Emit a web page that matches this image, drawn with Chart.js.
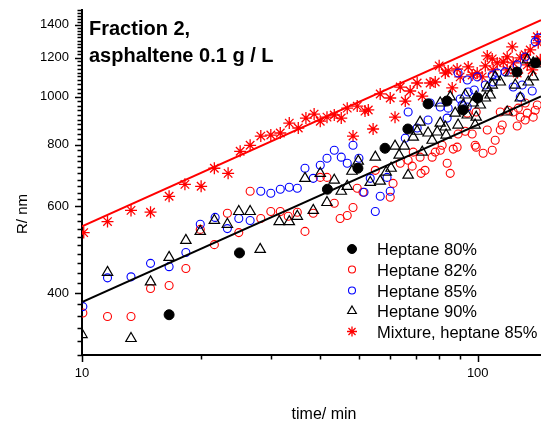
<!DOCTYPE html>
<html><head><meta charset="utf-8">
<script src="https://cdn.jsdelivr.net/npm/chart.js@4/dist/chart.umd.min.js"></script>
<style>html,body{margin:0;padding:0;background:#fff;overflow:hidden}</style>
</head><body>
<canvas id="c" width="541" height="421"></canvas>
<script>
// ---------- data (time in min, R in nm) ----------
const hept80Time = [16.6, 25.0, 41.7, 49.8, 58.3, 66.6, 74.9, 83.6, 91.8, 100, 125.7, 140];
const hept80R    = [362, 483, 650, 717, 787, 861, 968, 981, 941, 995, 1123, 1172];

const hept82Time = [10.05,11.6,13.3,14.9,16.6,18.3,19.9,21.6,23.3,24.9,26.6,28.3,30.0,31.7,33.2,35.0,36.6,38.4,40.0,41.6,43.4,44.9,46.8,48.4,49.6,51.3,55.1,60.1,61.1,63.7,66.7,68.3,68.7,71.5,71.9,73.6,76.7,78.1,80.4,81.3,83.7,85.2,86.7,88.7,89.2,93.0,96.8,98.5,99.1,103.2,105.7,108.8,110.7,114.0,115.3,114.0,119.4,122.9,125.8,126.6,128.1,131.8,131.8,133.4,138.1,139.7,141.4,94.1,99.1];
const hept82R    = [365,359,359,409,415,449,539,502,581,531,644,567,586,586,573,584,534,581,687,687,609,567,575,597,653,641,710,626,668,734,744,724,773,755,700,710,755,773,780,798,734,700,784,791,841,852,841,798,791,769,857,780,817,857,877,932,940,932,873,949,910,972,898,927,910,940,963,927,932];

const hept85Time = [10.05,11.6,13.3,14.9,16.6,18.3,19.9,21.7,23.3,24.9,26.6,28.3,30.0,31.7,33.4,35.0,36.6,38.4,40.0,41.6,43.4,45.2,46.8,48.4,50.1,51.6,53.5,55.1,56.7,60.1,59.0,65.6,66.7,70.3,74.9,75.8,80.4,83.7,84.2,90.3,91.3,94.1,94.6,98.0,89.2,94.1,99.7,104.5,108.8,112.0,117.3,122.9,125.8,129.5,131.8,137.3,128.1,139.7,142.2,109.4];
const hept85R    = [376,430,432,460,453,484,552,570,541,567,562,644,638,650,656,653,717,684,727,751,780,755,734,798,751,641,684,586,629,644,687,825,932,865,898,972,954,906,949,990,963,954,1023,1033,1118,1082,1098,1057,1108,1118,1124,1047,1161,1057,1205,1028,1000,1293,1317,1072];

const hept90Time = [10.0,11.6,13.3,14.9,16.6,18.3,19.9,21.6,23.3,24.9,26.6,28.2,31.5,33.4,35.0,36.6,38.4,40.0,41.6,43.4,45.2,46.8,48.1,49.9,53.5,55.1,56.7,58.7,60.4,61.8,65.2,63.3,66.7,68.7,71.5,70.3,74.9,72.4,76.7,79.0,80.4,83.2,87.7,89.2,94.1,99.1,98.5,101.5,91.9,97.4,93.0,99.1,85.2,80.4,105.7,108.8,110.7,114.0,120.8,124.4,128.1,118.7,134.2,138.1,141.4,133.4,138.1,104.5,107.5,82.8];
const hept90R    = [330,441,324,422,473,512,534,562,552,586,586,491,559,559,573,684,589,700,611,678,644,659,707,741,671,755,675,704,717,795,795,762,694,829,889,852,845,773,817,849,885,837,927,877,919,910,877,963,963,972,1009,1000,1000,972,1043,1057,1098,1072,1118,1057,995,932,1072,1098,1167,1189,1172,995,1009,869];

const mixTime = [10.1,11.6,13.3,14.9,16.6,18.2,20.0,21.6,23.4,25.1,26.6,28.3,30.0,31.7,33.4,35.2,36.8,38.6,40.0,41.6,43.4,45.2,46.8,48.4,49.6,51.9,52.9,54.4,56.7,60.1,61.8,63.7,65.6,67.5,70.3,72.4,75.8,78.1,79.9,82.8,84.2,86.2,88.7,90.3,94.6,96.8,99.7,102.6,105.7,108.8,112.0,116.0,118.7,118.7,122.2,122.9,128.1,131.8,133.4,137.3,141.4,142.2,143.9,109.4,135.7,125.8,104.5];
const mixR    = [531,559,589,584,629,665,659,717,700,776,798,833,837,845,885,865,906,923,893,910,919,906,949,833,958,936,941,861,1014,995,910,1047,981,1028,1067,1004,1067,1072,1156,1118,1129,1043,1139,1098,1150,1108,1118,1098,1211,1194,1172,1177,1205,1134,1263,1172,1200,1217,1161,1134,1324,1287,1189,1134,1245,1118,1156];

const fitTime    = [10, 144.5];
const mixFitR    = [547, 1431];
const heptFitR   = [384, 1002];

const seriesNames = ['Heptane 80%', 'Heptane 82%', 'Heptane 85%', 'Heptane 90%', 'Mixture, heptane 85%'];
const xTickValues = [10, 20, 30, 40, 50, 60, 70, 80, 90, 100];
const xTickLabels = [10, 100];
const yTickLabels = [400, 600, 800, 1000, 1200, 1400];
const yMinorStep = 20;
const xRange = [10, 144.5];
const yRange = [300, 1500];
const annotationLines = ['Fraction 2,', 'asphaltene 0.1 g / L'];
const xTitle = 'time/ min';
const yTitle = 'R/ nm';

// ---------- build ----------
const FONT = "'Liberation Sans', Arial, Helvetica, sans-serif";
const RED = '#ff0000', BLUE = '#0000ff', BLACK = '#000000';
const pairs = (xs, ys) => xs.map((x, i) => ({x: x, y: ys[i]}));
const yTickValues = [];
for (let v = yRange[0]; v <= yRange[1]; v += yMinorStep) yTickValues.push(v);
const isIn = (arr, v) => arr.some(a => Math.abs(a - v) < 1e-6);

const markerStyles = [
  {style: 'circle', color: BLACK, fill: BLACK, r: 5, lr: 4.5, bw: 1},
  {style: 'circle', color: RED, fill: 'rgba(0,0,0,0)', r: 4, lr: 3.5, bw: 1.1},
  {style: 'circle', color: BLUE, fill: 'rgba(0,0,0,0)', r: 4, lr: 3.5, bw: 1.1},
  {style: 'triangle', color: BLACK, fill: 'rgba(0,0,0,0)', r: 6, lr: 5, bw: 1.2},
  {style: 'star', color: RED, fill: RED, r: 6, lr: 5, bw: 1.3}
];
const seriesData = [
  pairs(hept80Time, hept80R), pairs(hept82Time, hept82R), pairs(hept85Time, hept85R),
  pairs(hept90Time, hept90R), pairs(mixTime, mixR)
];

const datasets = [
  {label: 'fit mixture', data: pairs(fitTime, mixFitR), showLine: true, borderColor: RED, borderWidth: 2, pointRadius: 0, clip: 0},
  {label: 'fit heptane', data: pairs(fitTime, heptFitR), showLine: true, borderColor: BLACK, borderWidth: 2, pointRadius: 0, clip: 0}
];
// draw order: 80% on top, mixture at the bottom
[0, 3, 2, 1, 4].forEach(i => {
  const m = markerStyles[i];
  datasets.push({
    label: seriesNames[i], data: seriesData[i], showLine: false,
    pointStyle: m.style, pointRadius: m.r, pointHoverRadius: m.r,
    borderColor: m.color, backgroundColor: m.fill, pointBorderWidth: m.bw, borderWidth: m.bw, clip: 0
  });
});

function drawMarker(ctx, style, x, y, r, color, fill, bw) {
  ctx.save();
  ctx.strokeStyle = color; ctx.fillStyle = fill; ctx.lineWidth = bw;
  ctx.beginPath();
  if (style === 'circle') {
    ctx.arc(x, y, r, 0, Math.PI * 2);
    ctx.fill(); ctx.stroke();
  } else if (style === 'triangle') {
    let a = 0;
    for (let k = 0; k < 3; k++) {
      const px = x + Math.sin(a) * r, py = y - Math.cos(a) * r;
      if (k === 0) ctx.moveTo(px, py); else ctx.lineTo(px, py);
      a += 2 * Math.PI / 3;
    }
    ctx.closePath(); ctx.stroke();
  } else {
    for (let k = 0; k < 4; k++) {
      const a = k * Math.PI / 4;
      ctx.moveTo(x + Math.sin(a) * r, y - Math.cos(a) * r);
      ctx.lineTo(x - Math.sin(a) * r, y + Math.cos(a) * r);
    }
    ctx.stroke();
  }
  ctx.restore();
}

const decorPlugin = {
  id: 'decor',
  afterDraw(chart) {
    const ctx = chart.ctx;
    const xs = chart.scales.x, ys = chart.scales.y;
    ctx.save();
    // tick marks
    ctx.strokeStyle = BLACK; ctx.lineWidth = 1.5;
    ctx.beginPath();
    xs.ticks.forEach(t => {
      const px = Math.round(xs.getPixelForValue(t.value)) + 0.5;
      const len = isIn(xTickLabels, t.value) ? 7 : 4.5;
      ctx.moveTo(px, xs.top); ctx.lineTo(px, xs.top + len);
    });
    ys.ticks.forEach(t => {
      const py = Math.round(ys.getPixelForValue(t.value)) + 0.5;
      const len = isIn(yTickLabels, t.value) ? 7 : 4.5;
      ctx.moveTo(ys.right, py); ctx.lineTo(ys.right - len, py);
    });
    ctx.stroke();
    // axis titles
    ctx.fillStyle = BLACK;
    ctx.font = '16px ' + FONT;
    ctx.textAlign = 'center'; ctx.textBaseline = 'alphabetic';
    ctx.fillText(xTitle, 324, 419);
    ctx.save();
    ctx.translate(26.5, 214); ctx.rotate(-Math.PI / 2);
    ctx.font = '15px ' + FONT;
    ctx.fillText(yTitle, 0, 0);
    ctx.restore();
    // annotation
    ctx.font = 'bold 20px ' + FONT;
    ctx.textAlign = 'left';
    ctx.fillText(annotationLines[0], 89, 34.5);
    ctx.fillText(annotationLines[1], 89, 62);
    // legend
    ctx.font = '16.5px ' + FONT;
    const baselines = [255, 275.5, 296.5, 317, 337.5];
    seriesNames.forEach((name, i) => {
      const m = markerStyles[i];
      drawMarker(ctx, m.style, 352, baselines[i] - 6, m.lr, m.color, m.fill, m.bw);
      ctx.fillStyle = BLACK;
      ctx.fillText(name, 377, baselines[i]);
    });
    ctx.restore();
  }
};

new Chart(document.getElementById('c'), {
  type: 'scatter',
  data: {datasets: datasets},
  options: {
    responsive: false, animation: false, events: [],
    layout: {autoPadding: false, padding: {top: 10, right: 0, bottom: 0, left: 0}},
    plugins: {legend: {display: false}, tooltip: {enabled: false}},
    scales: {
      x: {
        type: 'logarithmic', position: 'bottom', min: xRange[0], max: xRange[1],
        afterBuildTicks: s => { s.ticks = xTickValues.map(v => ({value: v})); },
        afterFit: s => { s.height = 66; s.paddingLeft = 0; s.paddingRight = 0; },
        ticks: {autoSkip: false, maxRotation: 0, minRotation: 0, padding: 11, color: BLACK,
          font: {family: FONT, size: 13},
          callback: v => isIn(xTickLabels, v) ? String(v) : ''},
        grid: {display: true, drawOnChartArea: false, drawTicks: false},
        border: {display: true, color: BLACK, width: 2}
      },
      y: {
        type: 'logarithmic', position: 'left', min: yRange[0], max: yRange[1],
        afterBuildTicks: s => { s.ticks = yTickValues.map(v => ({value: v})); },
        afterFit: s => { s.width = 82; s.paddingTop = 0; s.paddingBottom = 0; },
        ticks: {autoSkip: false, padding: 13, color: BLACK,
          font: {family: FONT, size: 13},
          callback: v => isIn(yTickLabels, v) ? String(v) : ''},
        grid: {display: true, drawOnChartArea: false, drawTicks: false},
        border: {display: true, color: BLACK, width: 2}
      }
    }
  },
  plugins: [decorPlugin]
});
</script>
</body></html>
